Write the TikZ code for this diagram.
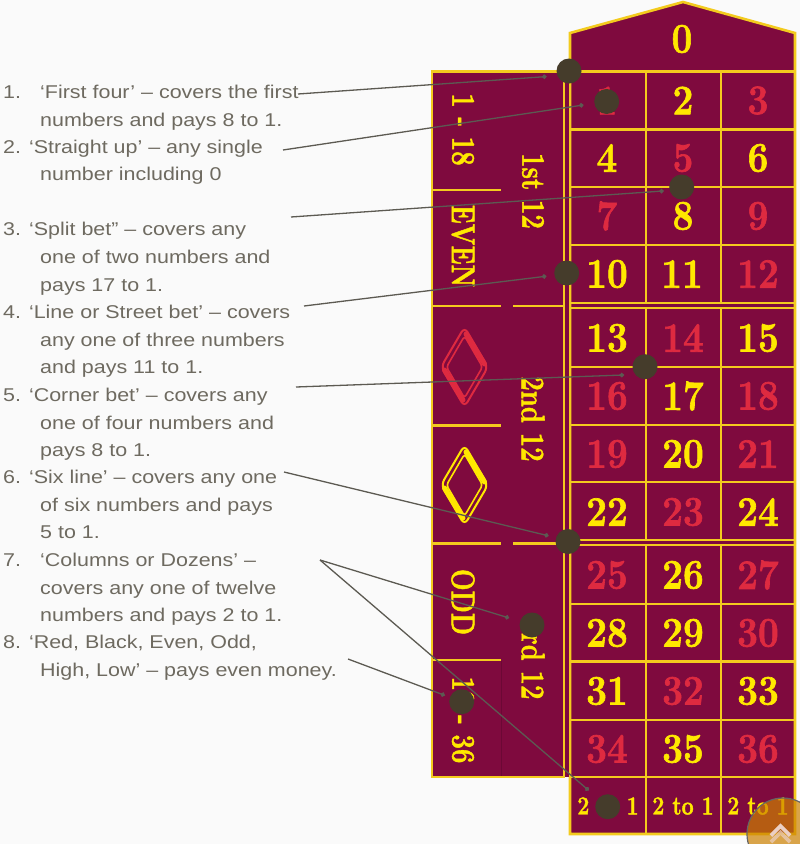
\documentclass[tikz,border=0pt]{standalone}
\usepackage{fontspec}
\setmainfont{Latin Modern Roman}
\newfontfamily\labelfont[FakeStretch=1.16]{Liberation Sans}
\newfontfamily\numfont[BoldFeatures={FakeBold=1.6}]{Latin Modern Roman}
\usetikzlibrary{arrows.meta}
\definecolor{felt}{HTML}{7F0A3E}
\definecolor{edge}{HTML}{F3CB1E}
\definecolor{gold}{HTML}{FFE800}
\definecolor{rouge}{HTML}{DE2A40}
\definecolor{chip}{HTML}{453C2B}
\definecolor{wire}{HTML}{5C5A52}
\definecolor{inktext}{HTML}{6E6A60}
\definecolor{chevron}{HTML}{EBCFC4}
\tikzset{
  x=1pt,y=-1pt,
  grid/.style={draw=edge,line width=2.6pt},
  yn/.style={text=gold,inner sep=0pt,font=\numfont\fontsize{42}{42}\selectfont\bfseries,xscale=.88,transform shape},
  rn/.style={yn,text=rouge},
  yt/.style={text=gold,inner sep=0pt,font=\numfont\fontsize{26}{26}\selectfont\bfseries,xscale=.82,transform shape},
  side/.style={text=gold,inner sep=0pt,font=\numfont\fontsize{33}{33}\selectfont\bfseries,rotate=-90,xscale=.78,transform shape},
  chipdot/.style={circle,fill=chip,minimum size=25pt,inner sep=0pt},
  wireline/.style={draw=wire,line width=1.3pt,-{Circle[length=4.5pt,width=4.5pt]}},
  lbl/.style={anchor=base west,inner sep=0pt,text=inktext,font=\labelfont\fontsize{18.5}{18.5}\selectfont},
}
\begin{document}
\begin{tikzpicture}
\useasboundingbox (0,0) rectangle (800,844);
\fill[white!98!black] (0,0) rectangle (800,844);
% felt
\path[fill=felt,grid] (570,33) -- (683,2) -- (795,33) -- (795,834) -- (570,834) -- cycle;
\fill[felt] (432,71.5) rectangle (570,777);
\draw[grid] (570,71.5) -- (432,71.5) -- (432,777) -- (564,777) -- (564,71.5);
\draw[grid] (570,71.5) -- (570,834);
% cell lines
\foreach \y in {71.5,129.5,187,245,303,308,367,425,482,540,545,604,661.5,720,777,834}
  \draw[grid] (570,\y) -- (795,\y);
\foreach \x in {646,721}
  \draw[grid] (\x,71.5) -- (\x,303) (\x,308) -- (\x,540) (\x,545) -- (\x,834);
% side lines
\draw[grid] (432,190) -- (501,190) (432,306) -- (501,306) (513,306) -- (564,306)
  (432,425.5) -- (501,425.5) (432,543.5) -- (501,543.5) (513,543.5) -- (564,543.5)
  (432,660) -- (501,660);
\draw[draw=felt!85!black,line width=.8pt] (501,661) -- (501,776);
% diamonds
\foreach \cy/\col in {367/rouge,485/gold}{
  \draw[\col,line width=2pt,rounded corners=6pt] (464.5,\cy-40) -- (488,\cy) -- (464.5,\cy+40) -- (441,\cy) -- cycle;
  \draw[\col,line width=1.6pt,rounded corners=3pt] (464.5,\cy-31) -- (482.5,\cy) -- (464.5,\cy+31) -- (446.5,\cy) -- cycle;
  \draw[\col,line width=5pt,line cap=round] (466,\cy-33) -- (484.5,\cy-3) (463,\cy+33) -- (444.5,\cy+3);
}
% numbers
\node[yn] (n0) at (682,39) {0};
\foreach \t/\c/\xx/\yy in {1/rn/607/100.5,2/yn/683/100.5,3/rn/758/100.5,
  4/yn/607/158,5/rn/683/158,6/yn/758/158,
  7/rn/607/216,8/yn/683/216,9/rn/758/216,
  10/yn/607/274,11/yn/682/274,12/rn/758/274,
  13/yn/607/338,14/rn/683/338,15/yn/758/338,
  16/rn/607/396,17/yn/683/396,18/rn/758/396,
  19/rn/607/454,20/yn/683/454,21/rn/758/454,
  22/yn/607/512,23/rn/683/512,24/yn/758/512,
  25/rn/607/575,26/yn/683/575,27/rn/758/575,
  28/yn/607/633,29/yn/683/633,30/rn/758/633,
  31/yn/607/691,32/rn/683/691,33/yn/758/691,
  34/rn/607/749,35/yn/683/749,36/rn/758/749}
  \node[\c] (n\t) at (\xx,\yy) {\t};
\node[yt] (a) at (608,806) {2 to 1};
\node[yt] (b) at (683,806) {2 to 1};
\node[yt] (c) at (758,806) {2 to 1};
% side labels
\node[side] (s1) at (463,129.5) {1 - 18};
\node[side] (s2) at (463,246) {EVEN};
\node[side] (s3) at (463,602) {ODD};
\node[side] (s4) at (463,720) {19 - 36};
\node[side] (s5) at (533,191) {1st 12};
\node[side] (s6) at (533,419) {2nd 12};
\node[side] (s7) at (533,659) {3rd 12};
% dots
\node[chipdot] (d1) at (569,71) {};
\node[chipdot] (d2) at (606.7,101.5) {};
\node[chipdot] (d3) at (681.7,187) {};
\node[chipdot] (d4) at (566.7,273) {};
\node[chipdot] (d5) at (645,366.7) {};
\node[chipdot] (d6) at (568,541.5) {};
\node[chipdot] (d7) at (532,625) {};
\node[chipdot] (d8) at (461.7,701.7) {};
\node[chipdot] (d9) at (607.7,806.7) {};
% labels
\node[lbl] (l1) at (3,98) {1.};
\node[lbl] (l1b) at (40,98) {‘First four’ – covers the first};
\node[lbl] (l1c) at (40,126) {numbers and pays 8 to 1.};
\node[lbl] (l2) at (3,153) {2. ‘Straight up’ – any single};
\node[lbl] (l2c) at (40,180) {number including 0};
\node[lbl] (l3) at (3,235) {3. ‘Split bet” – covers any};
\node[lbl] (l3b) at (40,263) {one of two numbers and};
\node[lbl] (l3c) at (40,291) {pays 17 to 1.};
\node[lbl] (l4) at (3,318) {4. ‘Line or Street bet’ – covers};
\node[lbl] (l4b) at (40,346) {any one of three numbers};
\node[lbl] (l4c) at (40,373) {and pays 11 to 1.};
\node[lbl] (l5) at (3,401) {5. ‘Corner bet’ – covers any};
\node[lbl] (l5b) at (40,429) {one of four numbers and};
\node[lbl] (l5c) at (40,456) {pays 8 to 1.};
\node[lbl] (l6) at (3,483) {6. ‘Six line’ – covers any one};
\node[lbl] (l6b) at (40,511) {of six numbers and pays};
\node[lbl] (l6c) at (40,538) {5 to 1.};
\node[lbl] (l7) at (3,566) {7.};
\node[lbl] (l7a) at (40,566) {‘Columns or Dozens’ –};
\node[lbl] (l7b) at (40,594) {covers any one of twelve};
\node[lbl] (l7c) at (40,621) {numbers and pays 2 to 1.};
\node[lbl] (l8) at (3,648) {8. ‘Red, Black, Even, Odd,};
\node[lbl] (l8b) at (40,676) {High, Low’ – pays even money.};
% connector ends
\coordinate (t1) at (298,94);
\coordinate (t2) at (283,150);
\coordinate (t3) at (291,217);
\coordinate (t4) at (304,306);
\coordinate (t5) at (296,387);
\coordinate (t6) at (284,472);
\coordinate (t7) at (320,560);
\coordinate (t8) at (348,659);
\draw[wireline,shorten >=22.5pt] (t1) -- ([yshift=-4pt]d1.center);
\draw[wireline,shorten >=23.5pt] (t2) -- (d2.center);
\draw[wireline,shorten >=18pt] (t3) -- ([yshift=-2.7pt]d3.center);
\draw[wireline,shorten >=20.5pt] (t4) -- ([yshift=-.7pt]d4.center);
\draw[wireline,shorten >=21pt] (t5) -- ([yshift=-7.5pt]d5.center);
\draw[wireline,shorten >=20pt] (t6) -- ([yshift=1pt]d6.center);
\draw[wireline,shorten >=24pt] (t7) -- (d7.center);
\draw[wireline,shorten >=25pt] (t7) -- (d9.center);
\draw[wireline,shorten >=18pt] (t8) -- (d8.center);
% scroll-to-top button
\begin{scope}
\clip (0,0) rectangle (800,844);
\fill[fill=orange!60!olive,opacity=.7] (783,834) circle (36);
\draw[black!60,line width=1.2pt] (783,834) circle (36);
\draw[chevron,line width=3.6pt,opacity=.7] (771,842) -- (780.5,832.5) -- (790,842);
\draw[chevron,line width=3.6pt] (771,835.5) -- (780.5,826) -- (790,835.5);
\end{scope}
\end{tikzpicture}
\end{document}
